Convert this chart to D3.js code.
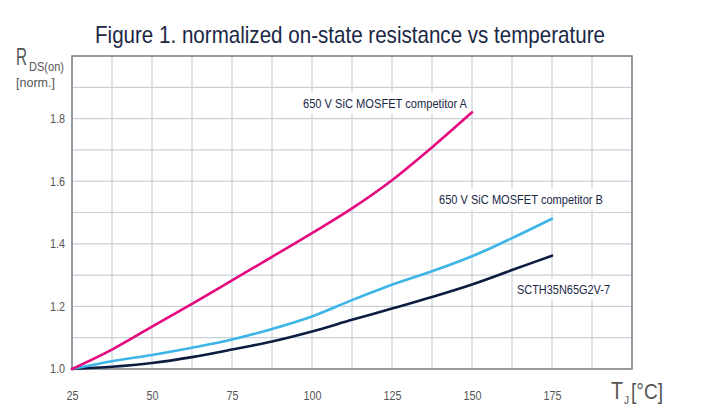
<!DOCTYPE html>
<html><head><meta charset="utf-8">
<script src="https://cdn.jsdelivr.net/npm/d3@7"></script>
<style>
html,body{margin:0;padding:0;background:#fff;}
svg{display:block;font-family:"Liberation Sans","Arial","Roboto",sans-serif;}
</style></head>
<body>
<svg id="chart" width="706" height="419"></svg>
<script>
// Data
const temps = [25, 37.5, 50, 62.5, 75, 87.5, 100, 112.5, 125, 137.5, 150, 162.5, 175];
const tempsA = [25, 37.5, 50, 62.5, 75, 87.5, 100, 112.5, 125, 137.5, 150];
const competitorA = [1.0, 1.062, 1.135, 1.208, 1.283, 1.358, 1.434, 1.513, 1.603, 1.708, 1.82];
const competitorB = [1.0, 1.025, 1.045, 1.068, 1.094, 1.128, 1.168, 1.22, 1.269, 1.312, 1.36, 1.418, 1.48];
const scth = [1.0, 1.007, 1.019, 1.038, 1.062, 1.088, 1.12, 1.157, 1.193, 1.23, 1.27, 1.316, 1.362];
const xTickLabels = [25, 50, 75, 100, 125, 150, 175];
const yTickLabels = [1.0, 1.2, 1.4, 1.6, 1.8];
const seriesNames = ["650 V SiC MOSFET competitor A", "650 V SiC MOSFET competitor B", "SCTH35N65G2V-7"];

const svg = d3.select("#chart");
const m = {left: 72, right: 632, top: 56, bottom: 369};
const x = d3.scaleLinear().domain([25, 200]).range([m.left, m.right]);
const y = d3.scaleLinear().domain([1.0, 2.0]).range([m.bottom, m.top]);

// Title
svg.append("text").attr("x", 95).attr("y", 43)
  .attr("font-size", 24).attr("fill", "#1b2845")
  .attr("textLength", 510).attr("lengthAdjust", "spacingAndGlyphs")
  .text("Figure 1. normalized on-state resistance vs temperature");

// Grid
const g = svg.append("g");
const xGrid = d3.range(25, 200.01, 12.5);
const yGrid = d3.range(1.0, 2.001, 0.1);
g.selectAll("line.vx").data(xGrid).join("line")
  .attr("x1", d => x(d)).attr("x2", d => x(d)).attr("y1", m.top).attr("y2", m.bottom)
  .attr("stroke", "#c9d1d8").attr("stroke-width", 1.2);
g.selectAll("line.hy").data(yGrid).join("line")
  .attr("y1", d => y(d)).attr("y2", d => y(d)).attr("x1", m.left).attr("x2", m.right)
  .attr("stroke", "#c9d1d8").attr("stroke-width", 1.2);

// Frame
svg.append("rect").attr("x", m.left).attr("y", m.top).attr("width", m.right - m.left).attr("height", m.bottom - m.top)
  .attr("fill", "none").attr("stroke", "#7d8288").attr("stroke-width", 1.5);

// Axes labels using d3 axes
const xAxis = d3.axisBottom(x).tickValues(xTickLabels).tickSize(0).tickPadding(22);
const xa = svg.append("g").attr("transform", `translate(0,${m.bottom})`).call(xAxis);
xa.select(".domain").remove();
xa.selectAll("text").attr("font-size", 12).attr("fill", "#555").attr("font-family", null)
  .attr("textLength", d => String(d).length * 6).attr("lengthAdjust", "spacingAndGlyphs");

const yAxis = d3.axisLeft(y).tickValues(yTickLabels).tickFormat(d3.format(".1f")).tickSize(0).tickPadding(7);
const ya = svg.append("g").attr("transform", `translate(${m.left},0)`).call(yAxis);
ya.select(".domain").remove();
ya.selectAll("text").attr("font-size", 12).attr("fill", "#555").attr("font-family", null)
  .attr("textLength", 15).attr("lengthAdjust", "spacingAndGlyphs");

// Annotations with white backgrounds
function label(txt, xx, yy, w) {
  const t = svg.append("text").attr("x", xx).attr("y", yy).attr("font-size", 13.5)
    .attr("fill", "#1b2845").attr("dominant-baseline", "middle")
    .attr("textLength", w).attr("lengthAdjust", "spacingAndGlyphs").text(txt);
  const bb = t.node().getBBox();
  svg.insert("rect", () => t.node()).attr("x", bb.x - 4).attr("y", bb.y - 3)
    .attr("width", bb.width + 8).attr("height", bb.height + 6).attr("fill", "#fff");
}
label(seriesNames[0], 303, 104, 164);
label(seriesNames[1], 439, 200, 164);
label(seriesNames[2], 517, 290, 93);

// Lines
const line = d3.line().x(d => x(d[0])).y(d => y(d[1])).curve(d3.curveMonotoneX);
const series = [
  {t: temps, v: scth, c: "#0c1d40"},
  {t: temps, v: competitorB, c: "#3db5e6"},
  {t: tempsA, v: competitorA, c: "#e5097f"}
];
series.forEach(s => {
  svg.append("path").datum(s.t.map((t, i) => [t, s.v[i]]))
    .attr("d", line).attr("fill", "none").attr("stroke", s.c).attr("stroke-width", 2.6)
    .attr("stroke-linecap", "round");
});

// Y axis title
svg.append("text").attr("x", 16).attr("y", 65).attr("fill", "#555").attr("font-size", 23)
  .attr("textLength", 11).attr("lengthAdjust", "spacingAndGlyphs").text("R");
svg.append("text").attr("x", 29).attr("y", 71).attr("fill", "#555").attr("font-size", 13)
  .attr("textLength", 35).attr("lengthAdjust", "spacingAndGlyphs").text("DS(on)");
svg.append("text").attr("x", 16).attr("y", 87).attr("font-size", 12.5).attr("fill", "#555")
  .attr("textLength", 39).attr("lengthAdjust", "spacingAndGlyphs").text("[norm.]");

// X axis title
svg.append("text").attr("x", 611).attr("y", 399).attr("fill", "#555").attr("font-size", 23)
  .attr("textLength", 12).attr("lengthAdjust", "spacingAndGlyphs").text("T");
svg.append("text").attr("x", 624).attr("y", 404).attr("fill", "#555").attr("font-size", 11)
  .attr("textLength", 5).attr("lengthAdjust", "spacingAndGlyphs").text("J");
svg.append("text").attr("x", 631).attr("y", 399).attr("fill", "#555").attr("font-size", 22)
  .attr("textLength", 32).attr("lengthAdjust", "spacingAndGlyphs").text("[°C]");
</script>
</body></html>
